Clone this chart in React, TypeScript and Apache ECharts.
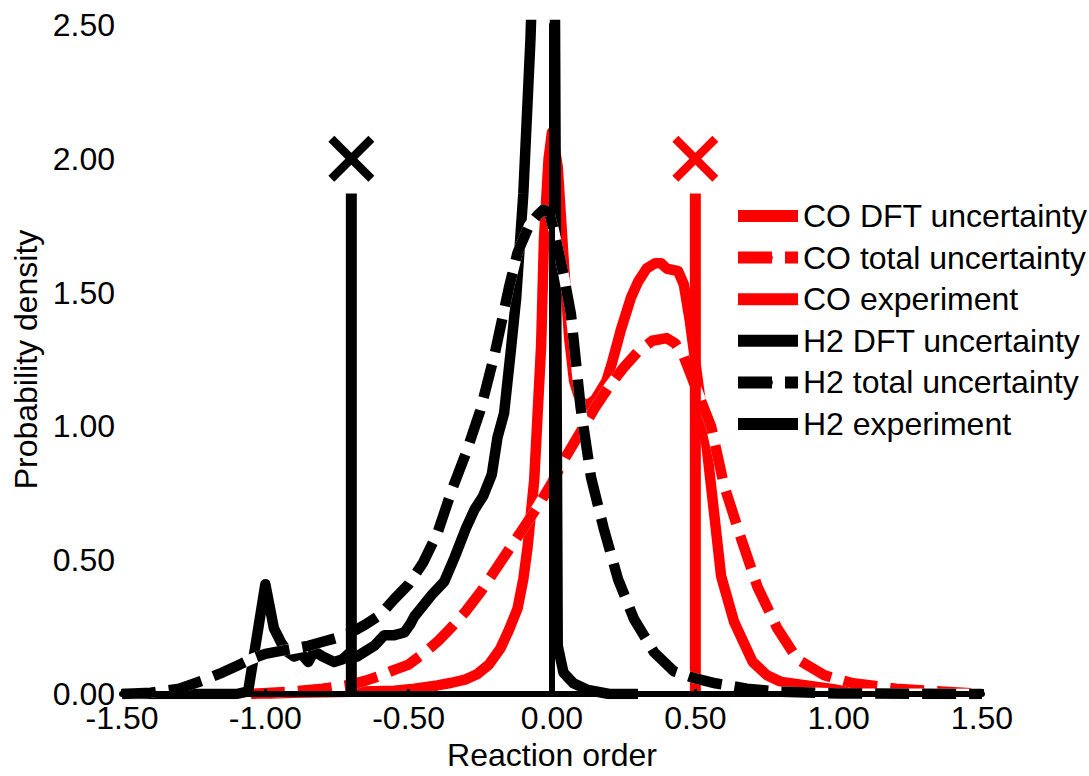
import React, { useEffect, useRef } from 'react';
import * as echarts from 'echarts';

const FONT = '"Liberation Sans", Arial, Helvetica, sans-serif';
const RED = '#ff0000';
const BLACK = '#000000';

// x-axis ticks / y-axis ticks
const xTicks = { min: -1.5, max: 1.5, step: 0.5 };
const yTicks = { min: 0, max: 2.5, step: 0.5 };

const legendNames = [
  'CO DFT uncertainty',
  'CO total uncertainty',
  'CO experiment',
  'H2 DFT uncertainty',
  'H2 total uncertainty',
  'H2 experiment',
];

// [reaction order, probability density]
const coDft: [number, number][] = [
  [-1.05, 0], [-0.9, 0.005], [-0.7, 0.008], [-0.55, 0.012], [-0.48, 0.02], [-0.4, 0.032],
  [-0.35, 0.042], [-0.3, 0.055], [-0.26, 0.075], [-0.22, 0.11], [-0.18, 0.17], [-0.15, 0.24],
  [-0.12, 0.32], [-0.1, 0.43], [-0.085, 0.55], [-0.062, 0.8], [-0.05, 1.05], [-0.038, 1.3],
  [-0.028, 1.7], [-0.012, 2.0], [0, 2.1], [0.02, 1.97], [0.042, 1.6], [0.06, 1.33],
  [0.077, 1.17], [0.1, 1.09], [0.125, 1.08], [0.15, 1.1], [0.19, 1.17], [0.21, 1.24],
  [0.24, 1.36], [0.275, 1.48], [0.3, 1.54], [0.33, 1.59], [0.36, 1.61], [0.38, 1.61],
  [0.4, 1.59], [0.44, 1.58], [0.46, 1.53], [0.48, 1.4], [0.5, 1.24], [0.52, 1.08],
  [0.54, 0.92], [0.565, 0.68], [0.59, 0.44], [0.635, 0.27], [0.7, 0.12], [0.75, 0.07],
  [0.8, 0.045], [0.9, 0.03], [1.0, 0.015], [1.1, 0.005], [1.2, 0],
];

const coTotal: [number, number][] = [
  [-1.05, 0], [-0.9, 0.01], [-0.8, 0.02], [-0.7, 0.035], [-0.65, 0.05], [-0.6, 0.068],
  [-0.55, 0.09], [-0.5, 0.11], [-0.45, 0.15], [-0.4, 0.195], [-0.35, 0.25], [-0.3, 0.31],
  [-0.25, 0.38], [-0.2, 0.46], [-0.15, 0.54], [-0.1, 0.62], [-0.05, 0.7], [0, 0.79],
  [0.05, 0.89], [0.1, 0.98], [0.15, 1.07], [0.2, 1.15], [0.25, 1.22], [0.3, 1.28],
  [0.35, 1.32], [0.4, 1.33], [0.43, 1.31], [0.46, 1.26], [0.5, 1.15], [0.555, 1.0],
  [0.6, 0.78], [0.66, 0.58], [0.717, 0.4], [0.786, 0.245], [0.856, 0.13], [0.95, 0.07],
  [1.05, 0.04], [1.2, 0.02], [1.37, 0.008], [1.5, 0],
];

const h2Dft: [number, number][] = [
  [-1.5, 0], [-1.1, 0], [-1.06, 0.01], [-1.0, 0.41], [-0.97, 0.245], [-0.944, 0.19],
  [-0.92, 0.155], [-0.9, 0.14], [-0.875, 0.15], [-0.85, 0.12], [-0.83, 0.16], [-0.8, 0.14],
  [-0.76, 0.12], [-0.73, 0.13], [-0.71, 0.15], [-0.68, 0.14], [-0.655, 0.157], [-0.62, 0.18],
  [-0.585, 0.22], [-0.55, 0.22], [-0.515, 0.23], [-0.495, 0.26], [-0.48, 0.29], [-0.45, 0.33],
  [-0.42, 0.37], [-0.376, 0.42], [-0.34, 0.51], [-0.3, 0.62], [-0.27, 0.69], [-0.24, 0.74],
  [-0.21, 0.82], [-0.19, 0.96], [-0.167, 1.05], [-0.143, 1.29], [-0.125, 1.48], [-0.1, 1.87],
  [-0.075, 2.45], [-0.05, 3.3], [-0.025, 4.2], [0, 5.1], [0.02, 0.18], [0.04, 0.08],
  [0.075, 0.04], [0.125, 0.015], [0.2, 0], [0.3, 0],
];

const h2Total: [number, number][] = [
  [-1.5, 0], [-1.4, 0.005], [-1.3, 0.02], [-1.22, 0.05], [-1.15, 0.08], [-1.1, 0.105],
  [-1.05, 0.13], [-1.0, 0.15], [-0.95, 0.16], [-0.9, 0.17], [-0.85, 0.18], [-0.8, 0.195],
  [-0.75, 0.21], [-0.7, 0.23], [-0.65, 0.26], [-0.6, 0.295], [-0.55, 0.355], [-0.5, 0.41],
  [-0.45, 0.49], [-0.4, 0.6], [-0.35, 0.76], [-0.3, 0.9], [-0.25, 1.06], [-0.2, 1.27],
  [-0.15, 1.52], [-0.12, 1.65], [-0.08, 1.75], [-0.05, 1.79], [-0.03, 1.81], [-0.01, 1.8],
  [0.007, 1.73], [0.04, 1.57], [0.066, 1.42], [0.1, 1.07], [0.136, 0.81], [0.18, 0.62],
  [0.23, 0.43], [0.286, 0.28], [0.356, 0.156], [0.425, 0.085], [0.5, 0.058], [0.57, 0.04],
  [0.68, 0.02], [0.8, 0.008], [1.0, 0.002], [1.5, 0],
];

// experimental values (vertical line from 0 to top, cross marker above)
const coExperiment = 0.5;
const h2Experiment = -0.7;
const experimentTop = 1.87;
const markerLevel = 2.0;

const CROSS = 'path://M0,13L13,0L50,37L87,0L100,13L63,50L100,87L87,100L50,63L13,100L0,87L37,50Z';
const DASH = [34, 13];
const LW = 10.5;

function buildOption(): any {
  const solid = (name: string, data: [number, number][], color: string) => ({
    name, type: 'line', data, symbol: 'none', showSymbol: false, silent: true,
    lineStyle: { color, width: LW, join: 'round' }, itemStyle: { color },
  });
  const dashedBg = (name: string, data: [number, number][]) => ({
    name, type: 'line', data, symbol: 'none', showSymbol: false, silent: true,
    lineStyle: { color: '#ffffff', width: LW, join: 'round' }, itemStyle: { color: '#ffffff' },
  });
  const dashed = (name: string, data: [number, number][], color: string) => ({
    name, type: 'line', data, symbol: 'none', showSymbol: false, silent: true,
    lineStyle: { color, width: LW, type: DASH, join: 'round' }, itemStyle: { color },
  });
  const exp = (name: string, x: number, color: string) => ({
    name, type: 'line', data: [[x, 0], [x, experimentTop]], symbol: 'none', showSymbol: false,
    silent: true, lineStyle: { color, width: 11 }, itemStyle: { color },
  });
  const mark = (name: string, x: number, color: string) => ({
    name, type: 'scatter', data: [[x, markerLevel]], symbol: CROSS, symbolSize: 46,
    silent: true, itemStyle: { color, opacity: 1 }, z: 4,
  });

  const axisText = { fontSize: 32, color: BLACK, fontFamily: FONT };

  return {
    animation: false,
    backgroundColor: '#ffffff',
    textStyle: { fontFamily: FONT },
    grid: { left: 122, right: 107, top: 25, bottom: 77, containLabel: false },
    legend: {
      data: legendNames,
      orient: 'vertical',
      left: 732,
      top: 200,
      padding: 0,
      itemWidth: 60,
      itemHeight: 12,
      itemGap: 9.6,
      selectedMode: false,
      lineStyle: { width: 12 },
      textStyle: { ...axisText, lineHeight: 32 },
    },
    xAxis: {
      type: 'value',
      min: xTicks.min,
      max: xTicks.max,
      interval: xTicks.step,
      z: 5,
      name: 'Reaction order',
      nameLocation: 'middle',
      nameGap: 45,
      nameTextStyle: axisText,
      axisLine: { onZero: false, lineStyle: { color: BLACK, width: 6 } },
      axisTick: { inside: true, length: 5, lineStyle: { color: BLACK, width: 3 } },
      axisLabel: { ...axisText, margin: 8, formatter: (v: number) => v.toFixed(2) },
      splitLine: { show: false },
    },
    yAxis: {
      type: 'value',
      min: yTicks.min,
      max: yTicks.max,
      interval: yTicks.step,
      z: 5,
      name: 'Probability density',
      nameLocation: 'middle',
      nameGap: 76,
      nameTextStyle: axisText,
      axisLine: { show: true, lineStyle: { color: BLACK, width: 6 } },
      axisTick: { show: true, inside: true, length: 5, lineStyle: { color: BLACK, width: 3 } },
      axisLabel: { ...axisText, margin: 7, formatter: (v: number) => v.toFixed(2) },
      splitLine: { show: false },
    },
    series: [
      solid('CO DFT uncertainty', coDft, RED),
      dashedBg('_co_total_bg', coTotal),
      dashed('CO total uncertainty', coTotal, RED),
      exp('CO experiment', coExperiment, RED),
      solid('H2 DFT uncertainty', h2Dft, BLACK),
      dashedBg('_h2_total_bg', h2Total),
      dashed('H2 total uncertainty', h2Total, BLACK),
      exp('H2 experiment', h2Experiment, BLACK),
      mark('_co_mark', coExperiment, RED),
      mark('_h2_mark', h2Experiment, BLACK),
    ],
  };
}

export default function App() {
  const ref = useRef<HTMLDivElement>(null);
  useEffect(() => {
    document.body.style.margin = '0';
    const chart = echarts.init(ref.current as HTMLDivElement, null, { renderer: 'svg' });
    chart.setOption(buildOption());
    return () => chart.dispose();
  }, []);
  return <div ref={ref} style={{ width: 1089, height: 776 }} />;
}
